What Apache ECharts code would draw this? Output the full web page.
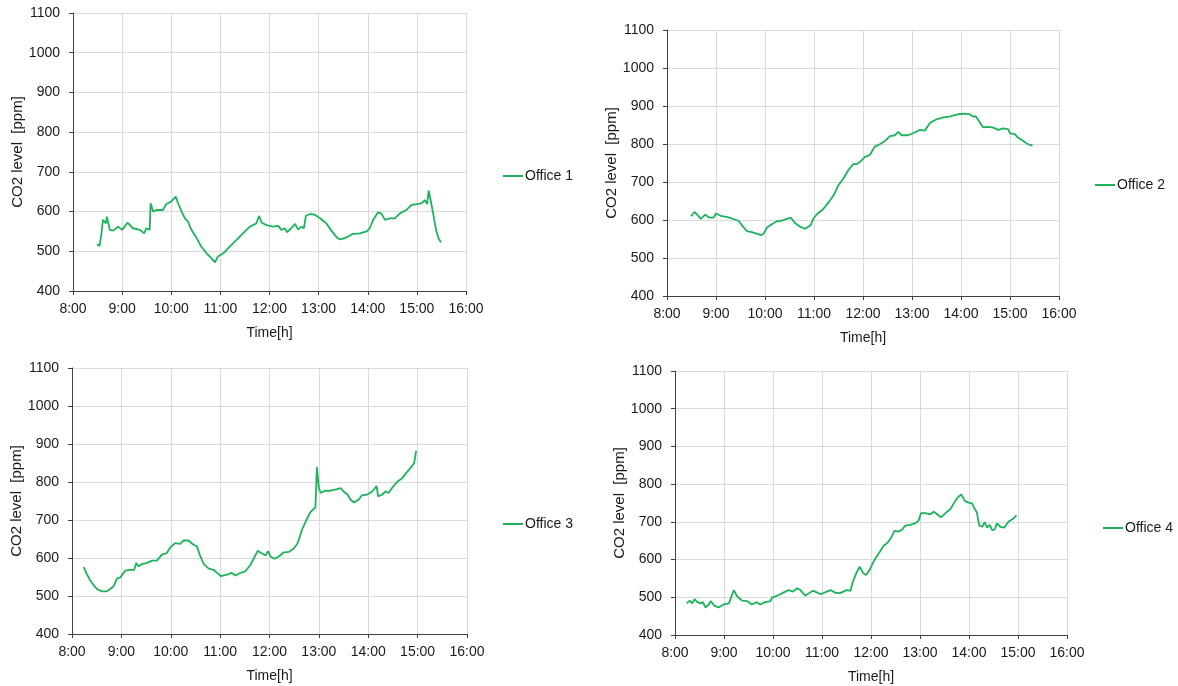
<!DOCTYPE html>
<html>
<head>
<meta charset="utf-8">
<script src="https://cdn.jsdelivr.net/npm/echarts@6/dist/echarts.min.js"></script>
<style>
html,body{margin:0;padding:0;background:#fff;}
#chart{width:1178px;height:686px;}
</style>
</head>
<body>
<div id="chart"></div>
<script>
// ---- Data (time in decimal hours, CO2 in ppm) ----
const seriesNames = ['Office 1', 'Office 2', 'Office 3', 'Office 4'];
const xTickHours = [8, 9, 10, 11, 12, 13, 14, 15, 16];
const yTicks = [400, 500, 600, 700, 800, 900, 1000, 1100];

const office1Time = [8.49,8.54,8.58,8.61,8.65,8.67,8.69,8.75,8.82,8.92,9.0,9.11,9.22,9.36,9.45,9.49,9.56,9.58,9.63,9.70,9.83,9.90,10.0,10.09,10.14,10.21,10.28,10.34,10.41,10.51,10.61,10.72,10.82,10.89,10.95,11.06,11.19,11.33,11.46,11.60,11.73,11.79,11.84,11.94,12.07,12.18,12.24,12.31,12.36,12.44,12.52,12.58,12.65,12.70,12.74,12.82,12.92,13.03,13.16,13.26,13.37,13.43,13.50,13.60,13.70,13.84,13.98,14.04,14.11,14.21,14.28,14.35,14.45,14.55,14.66,14.79,14.89,15.0,15.10,15.16,15.21,15.24,15.28,15.33,15.39,15.44,15.49];
const office1Ppm = [518,513,545,579,583,570,587,554,552,562,554,572,558,554,545,558,554,621,600,604,604,619,625,638,621,600,583,575,554,535,512,495,482,472,487,495,512,529,545,562,570,589,572,566,562,564,554,558,548,558,569,555,562,558,589,594,592,583,570,552,535,530,532,537,544,545,550,558,579,598,595,579,583,583,596,604,617,619,621,629,619,653,629,596,554,533,522];

const office2Time = [8.49,8.56,8.61,8.69,8.78,8.87,8.95,9.0,9.12,9.22,9.32,9.46,9.53,9.63,9.73,9.83,9.92,9.97,10.04,10.14,10.24,10.34,10.44,10.53,10.61,10.72,10.82,10.93,10.99,11.06,11.19,11.29,11.40,11.50,11.60,11.70,11.80,11.87,11.94,12.04,12.14,12.24,12.35,12.45,12.55,12.65,12.72,12.79,12.92,13.03,13.16,13.26,13.37,13.50,13.64,13.77,13.87,13.98,14.08,14.18,14.25,14.30,14.38,14.45,14.55,14.66,14.76,14.86,14.96,15.0,15.10,15.16,15.27,15.37,15.46];
const office2Ppm = [610,621,615,603,614,606,606,617,610,608,604,598,586,571,568,564,560,564,580,589,597,598,603,606,592,582,577,586,604,615,629,645,665,692,709,731,747,747,753,766,771,793,800,808,821,823,832,823,823,829,837,835,856,865,870,872,876,879,880,878,872,873,858,844,845,843,837,841,839,828,826,817,808,799,796];

const office3Time = [8.24,8.29,8.36,8.44,8.52,8.61,8.70,8.78,8.84,8.91,8.98,9.08,9.18,9.26,9.30,9.35,9.42,9.52,9.62,9.72,9.82,9.92,9.99,10.09,10.19,10.26,10.36,10.46,10.53,10.60,10.67,10.77,10.87,10.94,11.02,11.14,11.23,11.31,11.41,11.51,11.61,11.68,11.76,11.83,11.92,11.97,12.02,12.10,12.19,12.29,12.39,12.49,12.57,12.66,12.75,12.83,12.93,12.95,12.96,13.00,13.04,13.13,13.23,13.33,13.44,13.50,13.58,13.64,13.71,13.81,13.87,13.98,14.08,14.17,14.20,14.28,14.35,14.41,14.48,14.58,14.68,14.77,14.87,14.93,14.97];
const office3Ppm = [576,560,543,528,517,512,512,519,525,546,549,567,569,569,587,578,584,587,593,593,609,613,628,639,637,646,646,635,631,604,584,572,569,561,552,556,561,554,561,565,581,598,619,613,607,618,604,598,604,615,616,625,639,675,701,721,733,736,839,784,771,777,777,780,784,775,767,754,746,754,765,767,775,789,762,767,775,771,784,800,809,824,839,850,882];

const office4Time = [8.24,8.30,8.35,8.40,8.45,8.52,8.57,8.62,8.69,8.73,8.80,8.89,8.99,9.10,9.13,9.20,9.27,9.37,9.47,9.57,9.67,9.74,9.84,9.95,9.98,10.12,10.22,10.32,10.41,10.49,10.56,10.66,10.78,10.83,10.97,11.10,11.18,11.27,11.37,11.41,11.50,11.58,11.63,11.70,11.77,11.84,11.90,11.97,12.02,12.09,12.18,12.26,12.33,12.41,12.48,12.52,12.56,12.63,12.70,12.80,12.90,12.97,13.02,13.11,13.21,13.28,13.35,13.43,13.52,13.62,13.69,13.76,13.84,13.92,13.99,14.06,14.11,14.16,14.21,14.27,14.32,14.37,14.42,14.47,14.52,14.57,14.64,14.72,14.81,14.91,14.97];
const office4Ppm = [484,491,484,495,488,484,487,473,481,490,478,473,481,484,480,519,502,491,490,481,487,481,487,490,499,506,513,519,515,524,519,504,515,517,508,515,519,512,511,506,519,517,541,564,581,564,559,572,586,603,621,637,643,658,676,681,674,679,690,692,696,703,723,723,720,727,720,712,723,734,749,763,773,755,751,749,736,725,690,687,699,685,692,679,679,696,687,685,701,709,717];

// ---- Layout ----
const grids = [
  {left: 73, top: 13, width: 393, height: 278},
  {left: 667, top: 30, width: 392, height: 266},
  {left: 72, top: 368, width: 395, height: 266},
  {left: 675, top: 371, width: 392, height: 264}
];
const legendPos = [
  {left: 503, top: 169},
  {left: 1095, top: 178},
  {left: 503, top: 517},
  {left: 1103, top: 521}
];
const lineColor = '#1cb35c';
const times = [office1Time, office2Time, office3Time, office4Time];
const ppms = [office1Ppm, office2Ppm, office3Ppm, office4Ppm];
const fontFam = '"Liberation Sans", Arial, sans-serif';
const textColor = '#1a1a1a';

const xAxes = [], yAxes = [], series = [], legends = [];
for (let i = 0; i < 4; i++) {
  xAxes.push({
    type: 'value', gridIndex: i, min: xTickHours[0], max: xTickHours[xTickHours.length - 1], interval: 1,
    name: 'Time[h]', nameLocation: 'middle', nameGap: 35,
    nameTextStyle: {fontFamily: fontFam, fontSize: 14, color: textColor},
    axisLine: {show: true, lineStyle: {color: '#404040', width: 1}},
    axisTick: {show: true, length: 4, lineStyle: {color: '#404040'}},
    axisLabel: {fontFamily: fontFam, fontSize: 14, color: textColor, margin: 11,
      formatter: v => v + ':00'},
    splitLine: {show: true, lineStyle: {color: '#dadada', width: 1}}
  });
  yAxes.push({
    type: 'value', gridIndex: i, min: yTicks[0], max: yTicks[yTicks.length - 1], interval: 100,
    name: 'CO2 level  [ppm]', nameLocation: 'middle', nameGap: 48,
    nameTextStyle: {fontFamily: fontFam, fontSize: 15, color: textColor},
    axisLine: {show: true, lineStyle: {color: '#404040', width: 1}},
    axisTick: {show: true, length: 4, lineStyle: {color: '#404040'}},
    axisLabel: {fontFamily: fontFam, fontSize: 14, color: textColor, margin: 13,
      formatter: v => String(v)},
    splitLine: {show: true, lineStyle: {color: '#dadada', width: 1}}
  });
  series.push({
    name: seriesNames[i], type: 'line', xAxisIndex: i, yAxisIndex: i,
    showSymbol: false, symbol: 'none', smooth: false,
    data: times[i].map((t, k) => [t, ppms[i][k]]),
    lineStyle: {color: lineColor, width: 1.8},
    itemStyle: {color: lineColor},
    animation: false
  });
  legends.push({
    data: [seriesNames[i]], left: legendPos[i].left, top: legendPos[i].top,
    orient: 'vertical', padding: 0, icon: 'rect', itemWidth: 20, itemHeight: 2, itemGap: 2,
    textStyle: {fontFamily: fontFam, fontSize: 14, color: textColor, padding: [0, 0, 0, -3]}
  });
}

const chart = echarts.init(document.getElementById('chart'), null, {renderer: 'canvas'});
chart.setOption({
  backgroundColor: '#ffffff',
  animation: false,
  grid: grids,
  xAxis: xAxes,
  yAxis: yAxes,
  legend: legends,
  series: series
});
</script>
</body>
</html>
